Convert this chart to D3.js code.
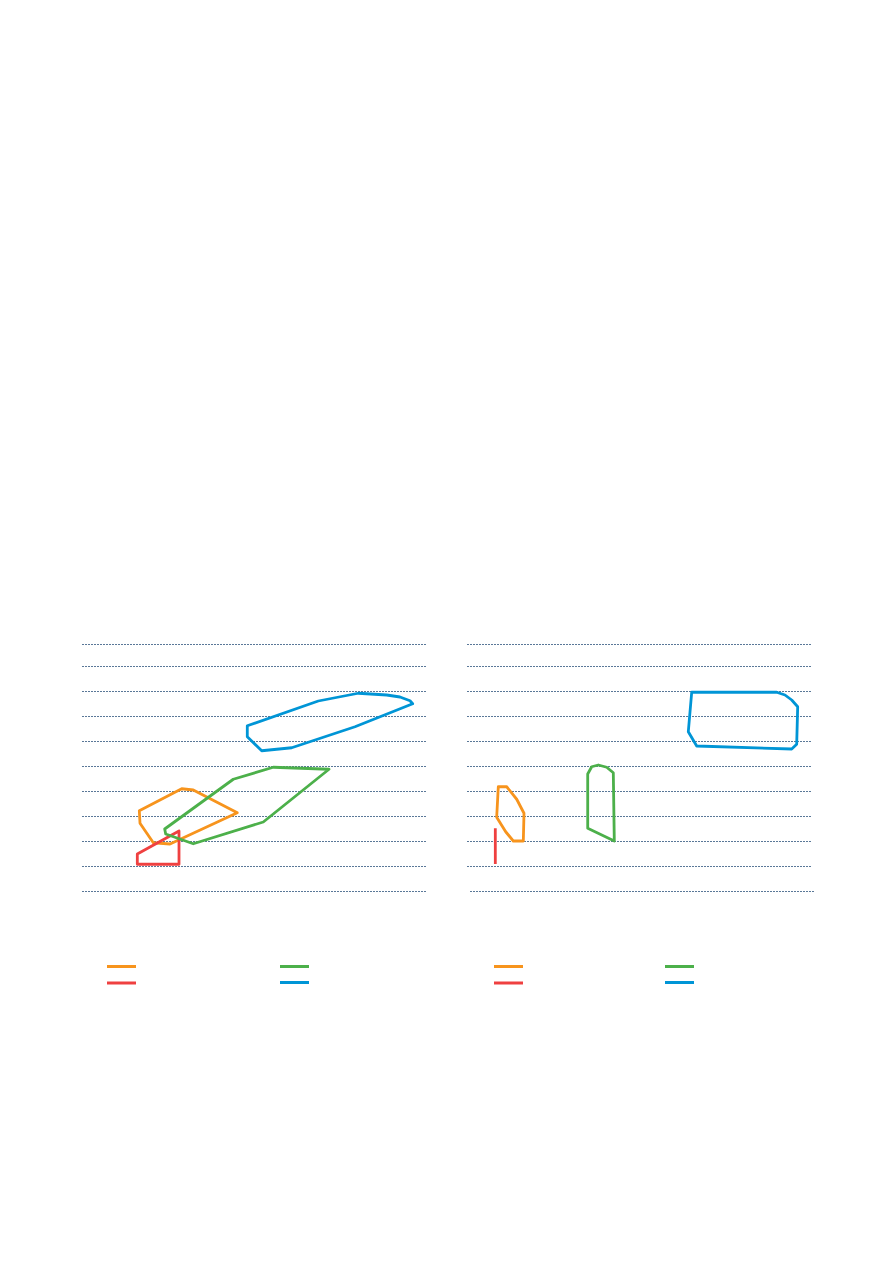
<!DOCTYPE html>
<html>
<head>
<meta charset="utf-8">
<script src="https://cdn.jsdelivr.net/npm/d3@7"></script>
<style>
html,body{margin:0;padding:0;background:#fff;}
svg{display:block;}
</style>
</head>
<body>
<svg id="chart" width="893" height="1263"></svg>
<script>
// ---- data (x in 0-100 panel units, y in gridline units) ----
const seriesNames = ["orange", "red", "green", "blue"];
const seriesColors = ["#f7941d", "#ef4040", "#4cb04a", "#0095d6"];
const gridValues = [0, 1, 2, 3, 4, 5, 6, 7, 8, 9, 9.88];

// left panel
const leftOrange = [[16.66,3.21],[16.86,2.71],[20.73,1.93],[25.58,1.88],[45.15,3.13],[32.35,4.04],[28.98,4.09]];
const leftRed    = [[16.08,1.48],[16.08,1.07],[28.20,1.07],[28.20,2.40]];
const leftGreen  = [[24.04,2.48],[24.33,2.28],[32.35,1.89],[52.70,2.76],[71.80,4.87],[55.61,4.95],[43.98,4.47]];
const leftBlue   = [[48.05,6.61],[48.05,6.17],[52.24,5.61],[60.96,5.73],[79.36,6.57],[96.13,7.49],[95.35,7.61],[92.44,7.76],[88.58,7.84],[80.32,7.91],[68.69,7.60]];

// right panel
const rightOrange = [[9.10,4.17],[11.54,4.17],[14.45,3.67],[16.57,3.11],[16.37,2.00],[13.46,2.00],[11.25,2.37],[8.63,2.95]];
const rightRed    = [[8.23,2.51],[8.23,1.08]];
const rightGreen  = [[35.09,4.68],[35.09,2.51],[42.82,2.00],[42.53,4.73],[40.61,4.95],[38.17,5.04],[36.25,4.97]];
const rightBlue   = [[65.32,7.95],[64.33,6.37],[66.77,5.80],[94.39,5.68],[95.84,5.87],[96.13,7.37],[94.39,7.64],[92.44,7.84],[90.03,7.95]];

// ---- layout ----
const svg = d3.select("#chart");
const y = d3.scaleLinear().domain([0, 9]).range([891, 666]);

const panels = [
  { x0: 82, x1: 426, shapes: [leftOrange, leftRed, leftGreen, leftBlue], closed: [true, true, true, true],
    legend: { ox: 107, gx: 280 } },
  { x0: 467, x1: 811, shapes: [rightOrange, rightRed, rightGreen, rightBlue], closed: [true, false, true, true],
    legend: { ox: 494, gx: 665 } }
];

panels.forEach((p, pi) => {
  const x = d3.scaleLinear().domain([0, 100]).range([p.x0, p.x1]);
  const g = svg.append("g");

  // gridlines
  g.selectAll("line.grid").data(gridValues).enter().append("line")
    .attr("class", "grid")
    .attr("x1", d => x(0) + (pi === 1 && d === 0 ? 3 : 0))
    .attr("x2", d => x(100) + (pi === 1 && d === 0 ? 3 : 0))
    .attr("y1", d => Math.round(y(d)) + 0.5)
    .attr("y2", d => Math.round(y(d)) + 0.5)
    .attr("stroke", "#5a7898")
    .attr("stroke-width", 1)
    .attr("stroke-dasharray", "2,1");

  // shapes
  p.shapes.forEach((pts, si) => {
    const line = d3.line()
      .x(d => x(d[0]))
      .y(d => y(d[1]))
      .curve(p.closed[si] ? d3.curveLinearClosed : d3.curveLinear);
    g.append("path")
      .attr("d", line(pts))
      .attr("fill", "none")
      .attr("stroke", seriesColors[si])
      .attr("stroke-width", 2.8)
      .attr("stroke-linejoin", "round")
      .attr("stroke-linecap", "butt");
  });

  // legend swatches
  const legendItems = [
    { c: 0, x: p.legend.ox, y: 966.5 },
    { c: 1, x: p.legend.ox, y: 983 },
    { c: 2, x: p.legend.gx, y: 966.5 },
    { c: 3, x: p.legend.gx, y: 982.5 }
  ];
  g.selectAll("line.leg").data(legendItems).enter().append("line")
    .attr("class", "leg")
    .attr("x1", d => d.x).attr("x2", d => d.x + 29)
    .attr("y1", d => d.y).attr("y2", d => d.y)
    .attr("stroke", d => seriesColors[d.c])
    .attr("stroke-width", 3);
});
</script>
</body>
</html>
